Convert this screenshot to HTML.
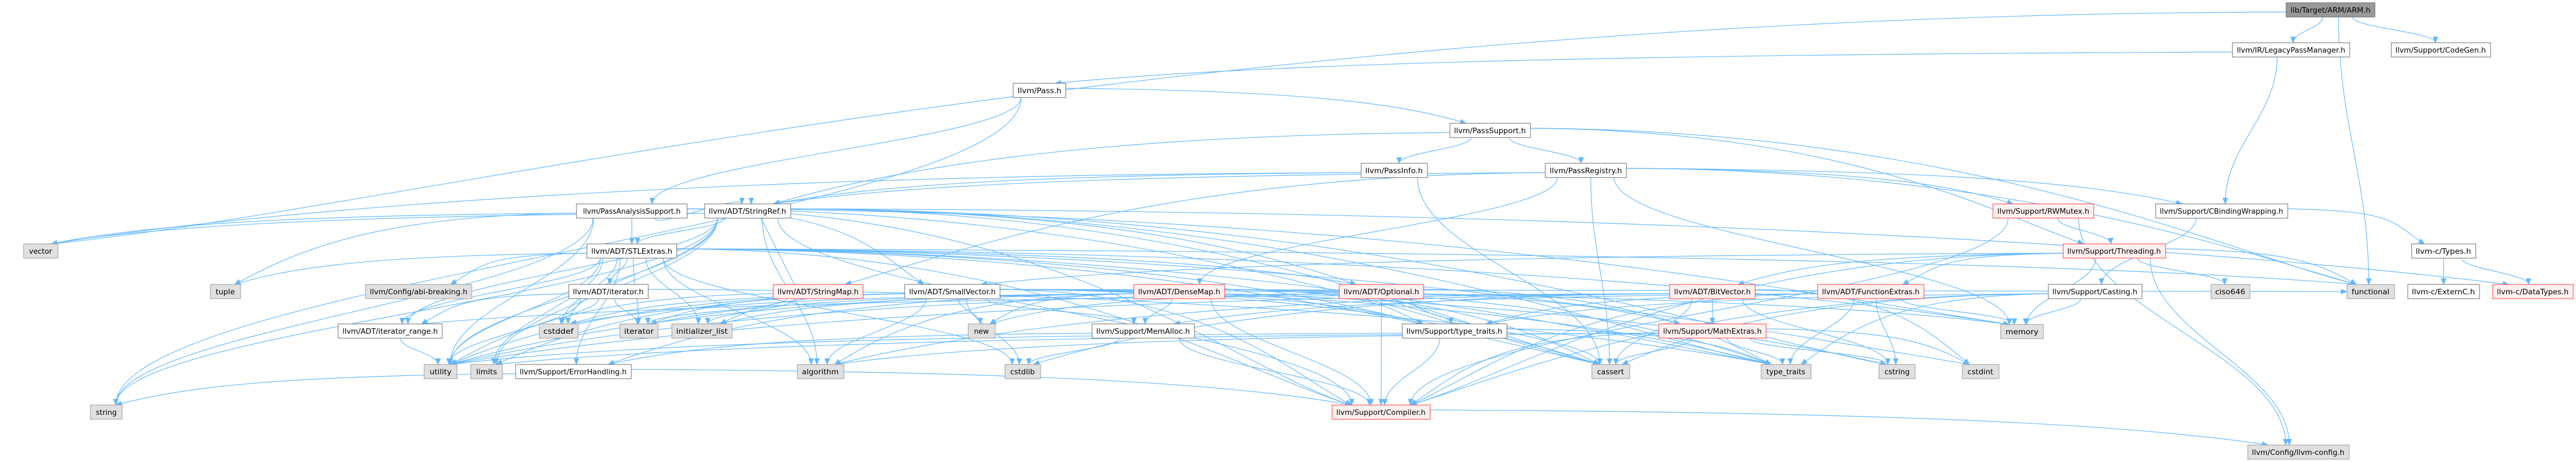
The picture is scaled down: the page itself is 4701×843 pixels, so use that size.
<!DOCTYPE html>
<html><head><meta charset="utf-8">
<style>
html,body{margin:0;padding:0;background:#fff;}
svg{display:block;}
text{font-family:"DejaVu Sans","Liberation Sans",sans-serif;font-size:13px;fill:#000;}
</style></head>
<body>
<svg id="g" xmlns="http://www.w3.org/2000/svg" width="4701" height="843" viewBox="0 0 4701 843">
<defs>
<marker id="ah" markerUnits="userSpaceOnUse" markerWidth="12" markerHeight="10" refX="11" refY="5" orient="auto">
<path d="M0,0 L12,5 L0,10 z" fill="#63b8ff"/>
</marker>
</defs>
<g id="edges" fill="none" stroke="#63b8ff" stroke-width="1.2"></g>
<g id="nodes">
<rect x="4172" y="5" width="162" height="26" fill="#999" stroke="#666"/><text x="4253" y="23" text-anchor="middle" textLength="146" lengthAdjust="spacingAndGlyphs">lib/Target/ARM/ARM.h</text>
<rect x="4074" y="78" width="214" height="26" fill="#fff" stroke="#666"/><text x="4181" y="96" text-anchor="middle" textLength="198" lengthAdjust="spacingAndGlyphs">llvm/IR/LegacyPassManager.h</text>
<rect x="4364" y="78" width="181" height="26" fill="#fff" stroke="#666"/><text x="4454" y="96" text-anchor="middle" textLength="165" lengthAdjust="spacingAndGlyphs">llvm/Support/CodeGen.h</text>
<rect x="1849" y="152" width="96" height="26" fill="#fff" stroke="#666"/><text x="1897" y="170" text-anchor="middle" textLength="80" lengthAdjust="spacingAndGlyphs">llvm/Pass.h</text>
<rect x="2646" y="225" width="147" height="26" fill="#fff" stroke="#666"/><text x="2719" y="243" text-anchor="middle" textLength="131" lengthAdjust="spacingAndGlyphs">llvm/PassSupport.h</text>
<rect x="2484" y="298" width="121" height="26" fill="#fff" stroke="#666"/><text x="2544" y="316" text-anchor="middle" textLength="105" lengthAdjust="spacingAndGlyphs">llvm/PassInfo.h</text>
<rect x="2820" y="298" width="148" height="26" fill="#fff" stroke="#666"/><text x="2894" y="316" text-anchor="middle" textLength="132" lengthAdjust="spacingAndGlyphs">llvm/PassRegistry.h</text>
<rect x="1052" y="372" width="202" height="26" fill="#fff" stroke="#666"/><text x="1153" y="390" text-anchor="middle" textLength="178" lengthAdjust="spacingAndGlyphs">llvm/PassAnalysisSupport.h</text>
<rect x="1286" y="372" width="157" height="26" fill="#fff" stroke="#666"/><text x="1364" y="390" text-anchor="middle" textLength="141" lengthAdjust="spacingAndGlyphs">llvm/ADT/StringRef.h</text>
<rect x="3637" y="372" width="184" height="26" fill="#fff0f0" stroke="#f33"/><text x="3729" y="390" text-anchor="middle" textLength="168" lengthAdjust="spacingAndGlyphs">llvm/Support/RWMutex.h</text>
<rect x="3934" y="372" width="241" height="26" fill="#fff" stroke="#666"/><text x="4054" y="390" text-anchor="middle" textLength="225" lengthAdjust="spacingAndGlyphs">llvm/Support/CBindingWrapping.h</text>
<rect x="43" y="445" width="63" height="26" fill="#e0e0e0" stroke="#999"/><text x="74" y="463" text-anchor="middle" textLength="42" lengthAdjust="spacingAndGlyphs">vector</text>
<rect x="1071" y="445" width="164" height="26" fill="#fff" stroke="#666"/><text x="1153" y="463" text-anchor="middle" textLength="148" lengthAdjust="spacingAndGlyphs">llvm/ADT/STLExtras.h</text>
<rect x="3765" y="445" width="187" height="26" fill="#fff0f0" stroke="#f33"/><text x="3858" y="463" text-anchor="middle" textLength="171" lengthAdjust="spacingAndGlyphs">llvm/Support/Threading.h</text>
<rect x="4401" y="445" width="117" height="26" fill="#fff" stroke="#666"/><text x="4459" y="463" text-anchor="middle" textLength="101" lengthAdjust="spacingAndGlyphs">llvm-c/Types.h</text>
<rect x="384" y="519" width="55" height="26" fill="#e0e0e0" stroke="#999"/><text x="411" y="537" text-anchor="middle" textLength="35" lengthAdjust="spacingAndGlyphs">tuple</text>
<rect x="667" y="519" width="194" height="26" fill="#e0e0e0" stroke="#999"/><text x="764" y="537" text-anchor="middle" textLength="178" lengthAdjust="spacingAndGlyphs">llvm/Config/abi-breaking.h</text>
<rect x="1038" y="519" width="145" height="26" fill="#fff" stroke="#666"/><text x="1110" y="537" text-anchor="middle" textLength="129" lengthAdjust="spacingAndGlyphs">llvm/ADT/iterator.h</text>
<rect x="1411" y="519" width="164" height="26" fill="#fff0f0" stroke="#f33"/><text x="1493" y="537" text-anchor="middle" textLength="148" lengthAdjust="spacingAndGlyphs">llvm/ADT/StringMap.h</text>
<rect x="1651" y="519" width="174" height="26" fill="#fff" stroke="#666"/><text x="1738" y="537" text-anchor="middle" textLength="158" lengthAdjust="spacingAndGlyphs">llvm/ADT/SmallVector.h</text>
<rect x="2069" y="519" width="166" height="26" fill="#fff0f0" stroke="#f33"/><text x="2152" y="537" text-anchor="middle" textLength="150" lengthAdjust="spacingAndGlyphs">llvm/ADT/DenseMap.h</text>
<rect x="2444" y="519" width="154" height="26" fill="#fff0f0" stroke="#f33"/><text x="2521" y="537" text-anchor="middle" textLength="138" lengthAdjust="spacingAndGlyphs">llvm/ADT/Optional.h</text>
<rect x="3047" y="519" width="156" height="26" fill="#fff0f0" stroke="#f33"/><text x="3125" y="537" text-anchor="middle" textLength="140" lengthAdjust="spacingAndGlyphs">llvm/ADT/BitVector.h</text>
<rect x="3317" y="519" width="194" height="26" fill="#fff0f0" stroke="#f33"/><text x="3414" y="537" text-anchor="middle" textLength="178" lengthAdjust="spacingAndGlyphs">llvm/ADT/FunctionExtras.h</text>
<rect x="3738" y="519" width="171" height="26" fill="#fff" stroke="#666"/><text x="3823" y="537" text-anchor="middle" textLength="155" lengthAdjust="spacingAndGlyphs">llvm/Support/Casting.h</text>
<rect x="4035" y="519" width="71" height="26" fill="#e0e0e0" stroke="#999"/><text x="4070" y="537" text-anchor="middle" textLength="55" lengthAdjust="spacingAndGlyphs">ciso646</text>
<rect x="4283" y="519" width="87" height="26" fill="#e0e0e0" stroke="#999"/><text x="4326" y="537" text-anchor="middle" textLength="69" lengthAdjust="spacingAndGlyphs">functional</text>
<rect x="4394" y="519" width="131" height="26" fill="#fff" stroke="#666"/><text x="4459" y="537" text-anchor="middle" textLength="115" lengthAdjust="spacingAndGlyphs">llvm-c/ExternC.h</text>
<rect x="4549" y="519" width="147" height="26" fill="#fff0f0" stroke="#f33"/><text x="4622" y="537" text-anchor="middle" textLength="131" lengthAdjust="spacingAndGlyphs">llvm-c/DataTypes.h</text>
<rect x="617" y="591" width="190" height="26" fill="#fff" stroke="#666"/><text x="712" y="609" text-anchor="middle" textLength="174" lengthAdjust="spacingAndGlyphs">llvm/ADT/iterator_range.h</text>
<rect x="984" y="591" width="71" height="26" fill="#e0e0e0" stroke="#999"/><text x="1019" y="609" text-anchor="middle" textLength="55" lengthAdjust="spacingAndGlyphs">cstddef</text>
<rect x="1131" y="591" width="70" height="26" fill="#e0e0e0" stroke="#999"/><text x="1166" y="609" text-anchor="middle" textLength="54" lengthAdjust="spacingAndGlyphs">iterator</text>
<rect x="1226" y="591" width="110" height="26" fill="#e0e0e0" stroke="#999"/><text x="1281" y="609" text-anchor="middle" textLength="94" lengthAdjust="spacingAndGlyphs">initializer_list</text>
<rect x="1767" y="591" width="49" height="26" fill="#e0e0e0" stroke="#999"/><text x="1791" y="609" text-anchor="middle" textLength="27" lengthAdjust="spacingAndGlyphs">new</text>
<rect x="1993" y="591" width="187" height="26" fill="#fff" stroke="#666"/><text x="2086" y="609" text-anchor="middle" textLength="171" lengthAdjust="spacingAndGlyphs">llvm/Support/MemAlloc.h</text>
<rect x="2559" y="591" width="191" height="26" fill="#fff" stroke="#666"/><text x="2654" y="609" text-anchor="middle" textLength="175" lengthAdjust="spacingAndGlyphs">llvm/Support/type_traits.h</text>
<rect x="3027" y="591" width="196" height="26" fill="#fff0f0" stroke="#f33"/><text x="3125" y="609" text-anchor="middle" textLength="180" lengthAdjust="spacingAndGlyphs">llvm/Support/MathExtras.h</text>
<rect x="3651" y="592" width="78" height="26" fill="#e0e0e0" stroke="#999"/><text x="3690" y="610" text-anchor="middle" textLength="60" lengthAdjust="spacingAndGlyphs">memory</text>
<rect x="774" y="665" width="60" height="26" fill="#e0e0e0" stroke="#999"/><text x="804" y="683" text-anchor="middle" textLength="40" lengthAdjust="spacingAndGlyphs">utility</text>
<rect x="859" y="665" width="58" height="26" fill="#e0e0e0" stroke="#999"/><text x="888" y="683" text-anchor="middle" textLength="38" lengthAdjust="spacingAndGlyphs">limits</text>
<rect x="941" y="665" width="211" height="26" fill="#fff" stroke="#666"/><text x="1046" y="683" text-anchor="middle" textLength="195" lengthAdjust="spacingAndGlyphs">llvm/Support/ErrorHandling.h</text>
<rect x="1455" y="665" width="85" height="26" fill="#e0e0e0" stroke="#999"/><text x="1497" y="683" text-anchor="middle" textLength="67" lengthAdjust="spacingAndGlyphs">algorithm</text>
<rect x="1834" y="665" width="65" height="26" fill="#e0e0e0" stroke="#999"/><text x="1866" y="683" text-anchor="middle" textLength="45" lengthAdjust="spacingAndGlyphs">cstdlib</text>
<rect x="2905" y="665" width="69" height="26" fill="#e0e0e0" stroke="#999"/><text x="2939" y="683" text-anchor="middle" textLength="49" lengthAdjust="spacingAndGlyphs">cassert</text>
<rect x="3214" y="665" width="91" height="26" fill="#e0e0e0" stroke="#999"/><text x="3259" y="683" text-anchor="middle" textLength="71" lengthAdjust="spacingAndGlyphs">type_traits</text>
<rect x="3429" y="665" width="66" height="26" fill="#e0e0e0" stroke="#999"/><text x="3462" y="683" text-anchor="middle" textLength="46" lengthAdjust="spacingAndGlyphs">cstring</text>
<rect x="3581" y="665" width="67" height="26" fill="#e0e0e0" stroke="#999"/><text x="3614" y="683" text-anchor="middle" textLength="47" lengthAdjust="spacingAndGlyphs">cstdint</text>
<rect x="165" y="739" width="58" height="26" fill="#e0e0e0" stroke="#999"/><text x="194" y="757" text-anchor="middle" textLength="38" lengthAdjust="spacingAndGlyphs">string</text>
<rect x="2431" y="739" width="179" height="26" fill="#fff0f0" stroke="#f33"/><text x="2520" y="757" text-anchor="middle" textLength="163" lengthAdjust="spacingAndGlyphs">llvm/Support/Compiler.h</text>
<rect x="4102" y="812" width="185" height="26" fill="#e0e0e0" stroke="#999"/><text x="4194" y="830" text-anchor="middle" textLength="169" lengthAdjust="spacingAndGlyphs">llvm/Config/llvm-config.h</text>
</g>
</svg>
<script>
var N={
ARM:[4172,5,162],LPM:[4074,78,214],CG:[4364,78,181],Pass:[1849,152,96],PS:[2646,225,147],PI:[2484,298,121],PR:[2820,298,148],
PAS:[1052,372,202],SR:[1286,372,157],RW:[3637,372,184],CBW:[3934,372,241],vector:[43,445,63],STL:[1071,445,164],Thr:[3765,445,187],Types:[4401,445,117],
tuple:[384,519,55],abi:[667,519,194],iter:[1038,519,145],SM:[1411,519,164],SV:[1651,519,174],DM:[2069,519,166],Opt:[2444,519,154],BV:[3047,519,156],FE:[3317,519,194],Cast:[3738,519,171],ciso:[4035,519,71],func:[4283,519,87],ExtC:[4394,519,131],DT:[4549,519,147],
itr:[617,591,190],cstddef:[984,591,71],iterator:[1131,591,70],initl:[1226,591,110],nw:[1767,591,49],MA:[1993,591,187],STT:[2559,591,191],ME:[3027,591,196],memory:[3651,592,78],
utility:[774,665,60],limits:[859,665,58],EH:[941,665,211],algorithm:[1455,665,85],cstdlib:[1834,665,65],cassert:[2905,665,69],ttr:[3214,665,91],cstring:[3429,665,66],cstdint:[3581,665,67],
string:[165,739,58],Comp:[2431,739,179],cfg:[4102,812,185]};
var E="ARM>vector ARM>LPM ARM>CG ARM>func LPM>Pass LPM>CBW Pass>string Pass>PAS Pass>PS PS>PI PS>PR PS>SR PS>func PS>Thr PI>SR PI>cassert PI>vector PR>SR PR>DM PR>SM PR>RW PR>CBW PR>memory PR>func PR>cassert "+
"PAS>vector PAS>string PAS>STL PAS>SV PAS>SR PAS>cassert PAS>utility PAS>tuple PAS>memory PAS>Comp "+
"SR>STL SR>itr SR>cstddef SR>Comp SR>algorithm SR>cassert SR>cstring SR>limits SR>string SR>ttr SR>utility SR>vector SR>Opt SR>DT "+
"STL>tuple STL>abi STL>iter STL>itr STL>cstddef STL>utility STL>limits STL>algorithm STL>cassert STL>initl STL>memory STL>ttr STL>func STL>STT STL>Comp STL>cstdint STL>cstdlib STL>iterator STL>Opt STL>EH "+
"iter>itr iter>cstddef iter>iterator iter>utility iter>ttr itr>utility EH>string EH>Comp "+
"SM>initl SM>iterator SM>utility SM>SR "+
"SV>Comp SV>STT SV>algorithm SV>cassert SV>cstddef SV>cstdlib SV>cstring SV>func SV>initl SV>iterator SV>limits SV>memory SV>nw SV>ttr SV>utility SV>MA "+
"DM>MA DM>ME DM>STT DM>Comp DM>algorithm DM>cassert DM>cstddef DM>initl DM>iterator DM>nw DM>ttr DM>utility DM>EH "+
"Opt>Comp Opt>STT Opt>cassert Opt>nw Opt>utility Opt>ttr "+
"BV>ME BV>itr BV>algorithm BV>cassert BV>cstdint BV>cstdlib BV>cstring BV>utility "+
"FE>memory FE>MA FE>STT FE>cstring FE>ttr FE>Comp "+
"MA>Comp MA>cstdlib MA>EH STT>Comp STT>ttr STT>utility "+
"ME>Comp ME>cassert ME>cstring ME>ttr ME>cstdint ME>limits ME>algorithm "+
"RW>Thr RW>cfg RW>Comp Thr>ciso Thr>func Thr>cfg Thr>Comp Thr>BV Thr>FE Thr>memory Thr>SV "+
"CBW>Cast CBW>Types Cast>memory Cast>Comp Cast>cassert Cast>ttr Cast>STT Types>ExtC Types>DT Comp>cfg";
var g=document.getElementById('edges'),s="";
E.split(/\s+/).forEach(function(p){if(!p)return;var a=N[p.split('>')[0]],b=N[p.split('>')[1]];if(!a||!b)return;
var ax=a[0]+a[2]/2,bx=b[0]+b[2]/2,ay=a[1]+26,by=b[1],dx=bx-ax,dy=by-ay,x1,y1,x2,y2,d;
if(Math.abs(dx)>Math.max(350,dy*4)){
 if(dx<0){x1=a[0];x2=b[0]+b[2];}else{x1=a[0]+a[2];x2=b[0];}
 y1=a[1]+13+ (dx<0?4:-4);
 if(b[1]>a[1]+10){x2=bx+(dx<0?b[2]*0.3:-b[2]*0.3);y2=b[1];
  d="M"+x1+","+y1+" C"+(x1+dx*0.5)+","+(y1+4)+" "+(x2-dx*0.15)+","+(y2-Math.min(60,(y2-y1)*0.6))+" "+x2+","+y2;}
 else{y2=b[1]+13;d="M"+x1+","+y1+" C"+(x1+dx*0.4)+","+y1+" "+(x2-dx*0.4)+","+y2+" "+x2+","+y2;}
}else{
 x1=ax+Math.max(-a[2]*0.35,Math.min(a[2]*0.35,dx*0.2));y1=ay;
 x2=bx-Math.max(-b[2]*0.3,Math.min(b[2]*0.3,dx*0.05));y2=by;var k=Math.max(20,dy*0.4);
 d="M"+x1+","+y1+" C"+x1+","+(y1+k)+" "+x2+","+(y2-k)+" "+x2+","+y2;}
s+='<path d="'+d+'" marker-end="url(#ah)"/>';});
g.innerHTML=s;
</script>
</body></html>
